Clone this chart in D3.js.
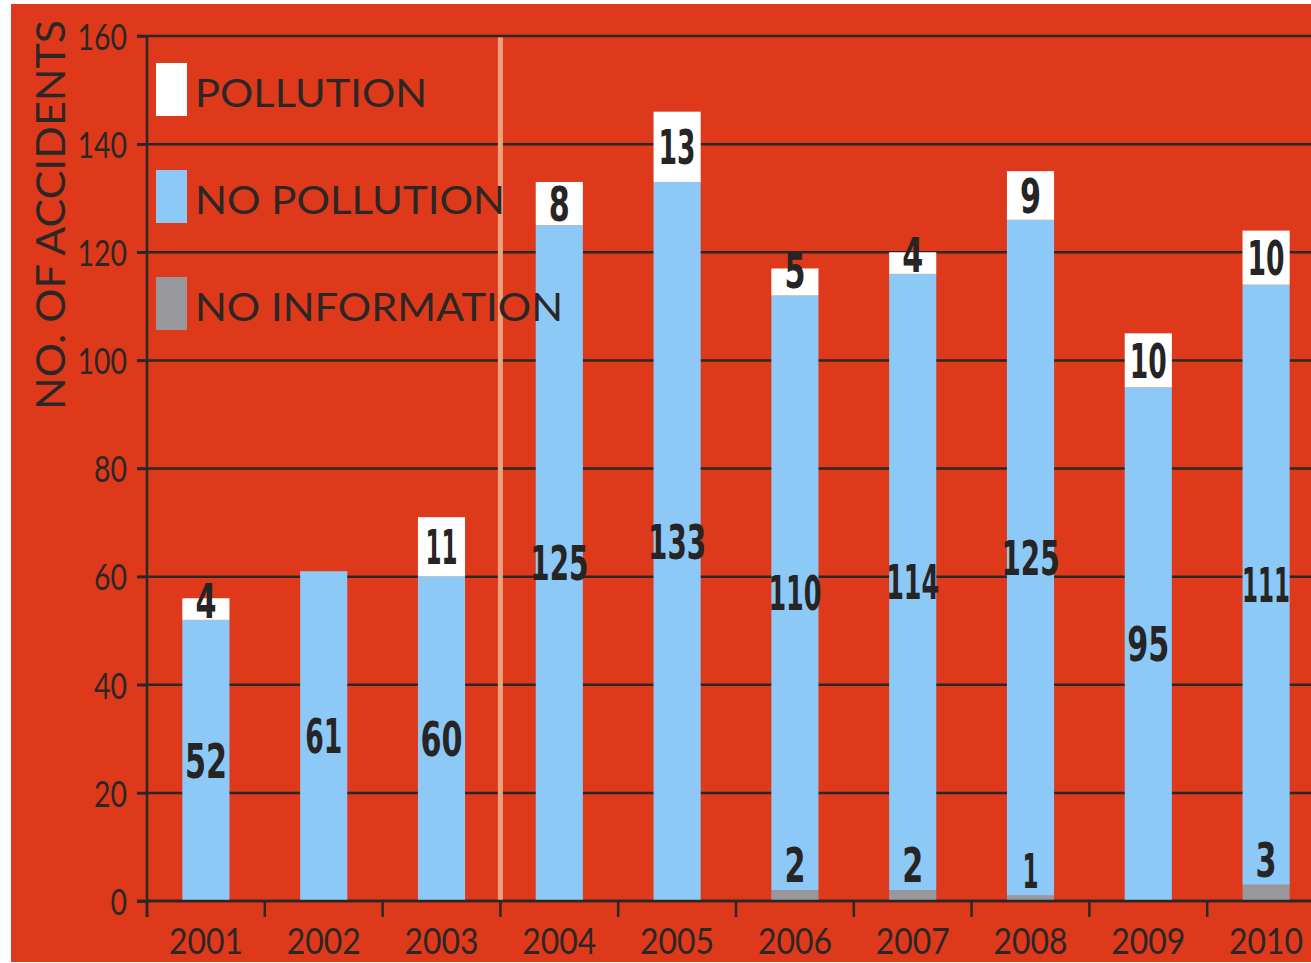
<!DOCTYPE html>
<html>
<head>
<meta charset="utf-8">
<script src="https://cdn.jsdelivr.net/npm/d3@7"></script>
<style>
  html, body { margin: 0; padding: 0; background: #ffffff; }
  svg { display: block; }
</style>
</head>
<body>
<div id="chart"></div>
<script>

// data
var years = ["2001", "2002", "2003", "2004", "2005", "2006", "2007", "2008", "2009", "2010"];
var noInformation = [0, 0, 0, 0, 0, 2, 2, 1, 0, 3];
var noPollution = [52, 61, 60, 125, 133, 110, 114, 125, 95, 111];
var pollution = [4, 0, 11, 8, 13, 5, 4, 9, 10, 10];
var yTicks = [0, 20, 40, 60, 80, 100, 120, 140, 160];

var legendItems = [
    {key: "pollution", label: "POLLUTION"},
    {key: "noPollution", label: "NO POLLUTION"},
    {key: "noInformation", label: "NO INFORMATION"}
];

function main() {

    var W = 1311, H = 963;
    var left = 147, top = 36, bottom = 901;

    var colors = {
        pollution: "#ffffff",
        noPollution: "#8cc9f6",
        noInformation: "#98979c"
    };
    var ink = "#2b2724";
    var thinFont = "Lato, 'Open Sans', sans-serif";
    var boldFont = "'DejaVu Sans Condensed', 'DejaVu Sans', sans-serif";

    var svg = d3.select("#chart")
        .append("svg")
        .attr("width", W)
        .attr("height", H);

    // red panel
    svg.append("rect")
        .attr("x", 11)
        .attr("y", 4)
        .attr("width", W - 11)
        .attr("height", 958)
        .attr("fill", "#df391c");

    // table for stacking
    var rows = years.map(function (d, i) {
        return {year: d, noInformation: noInformation[i], noPollution: noPollution[i], pollution: pollution[i]};
    });

    // scales
    var x = d3.scaleBand()
        .domain(years)
        .range([left, left + 117.8 * years.length])
        .paddingInner(0.6)
        .paddingOuter(0.3);

    var y = d3.scaleLinear()
        .domain([0, 160])
        .range([bottom, top]);

    var halfGap = (x.step() - x.bandwidth()) / 2;

    // horizontal grid lines
    svg.append("g")
        .selectAll("line")
        .data(yTicks)
        .join("line")
        .attr("x1", left - 10)
        .attr("x2", W)
        .attr("y1", function (d) { return y(d); })
        .attr("y2", function (d) { return y(d); })
        .attr("stroke", ink)
        .attr("stroke-width", 2.5);

    // stacked bars
    var stacked = d3.stack()
        .keys(["noInformation", "noPollution", "pollution"])(rows);

    var layers = svg.append("g")
        .selectAll("g")
        .data(stacked)
        .join("g")
        .attr("fill", function (d) { return colors[d.key]; });

    layers.selectAll("rect")
        .data(function (d) { return d; })
        .join("rect")
        .attr("x", function (d) { return x(d.data.year); })
        .attr("width", x.bandwidth())
        .attr("y", function (d) { return y(d[1]); })
        .attr("height", function (d) { return y(d[0]) - y(d[1]); });

    // divider between 2003 and 2004
    var divX = x(years[3]) - halfGap;
    svg.append("line")
        .attr("x1", divX)
        .attr("x2", divX)
        .attr("y1", y(160) + 1.5)
        .attr("y2", y(0))
        .attr("stroke", "#eca27d")
        .attr("stroke-width", 5);

    // Y axis
    var yAxis = svg.append("g")
        .attr("transform", "translate(" + left + ",0)")
        .call(d3.axisLeft(y).tickValues(yTicks).tickSize(10).tickPadding(10).tickSizeOuter(0));
    yAxis.select(".domain")
        .attr("d", "M0," + y(160) + "V" + (bottom + 16))
        .attr("stroke", ink)
        .attr("stroke-width", 2.5);
    yAxis.selectAll(".tick line").attr("stroke", ink).attr("stroke-width", 2.5);
    yAxis.selectAll(".tick text")
        .attr("fill", ink)
        .attr("font-family", thinFont)
        .attr("font-size", "37px")
        .attr("dy", "0.36em")
        .attr("textLength", function (d) { return String(d).length * 16.5; })
        .attr("lengthAdjust", "spacingAndGlyphs");

    // X axis: base line, boundary ticks and year labels
    svg.append("line")
        .attr("x1", left - 10)
        .attr("x2", W)
        .attr("y1", bottom)
        .attr("y2", bottom)
        .attr("stroke", ink)
        .attr("stroke-width", 2.5);

    svg.append("g")
        .selectAll("line")
        .data(years)
        .join("line")
        .attr("x1", function (d) { return x(d) - halfGap; })
        .attr("x2", function (d) { return x(d) - halfGap; })
        .attr("y1", bottom)
        .attr("y2", bottom + 16)
        .attr("stroke", ink)
        .attr("stroke-width", 2.5);

    svg.append("g")
        .selectAll("text")
        .data(years)
        .join("text")
        .attr("x", function (d) { return x(d) + x.bandwidth() / 2; })
        .attr("y", 954)
        .attr("text-anchor", "middle")
        .attr("fill", ink)
        .attr("font-family", thinFont)
        .attr("font-size", "37px")
        .attr("textLength", 74)
        .attr("lengthAdjust", "spacingAndGlyphs")
        .text(function (d) { return d; });

    // Y axis title
    svg.append("text")
        .attr("transform", "translate(65,410) rotate(-90)")
        .attr("fill", ink)
        .attr("font-family", thinFont)
        .attr("font-size", "41px")
        .attr("textLength", 390)
        .attr("lengthAdjust", "spacingAndGlyphs")
        .text("NO. OF ACCIDENTS");

    // legend
    var legendWidths = {pollution: 232, noPollution: 310, noInformation: 368};
    var legend = svg.append("g")
        .selectAll("g")
        .data(legendItems)
        .join("g")
        .attr("transform", function (d, i) { return "translate(156," + (63 + i * 107) + ")"; });

    legend.append("rect")
        .attr("width", 31)
        .attr("height", 53)
        .attr("fill", function (d) { return colors[d.key]; });

    legend.append("text")
        .attr("x", 39)
        .attr("y", 44)
        .attr("fill", ink)
        .attr("font-family", thinFont)
        .attr("font-size", "39px")
        .attr("textLength", function (d) { return legendWidths[d.key]; })
        .attr("lengthAdjust", "spacingAndGlyphs")
        .text(function (d) { return d.label; });

    // value labels
    var labels = [];
    stacked.forEach(function (layer) {
        layer.forEach(function (d) {
            var v = d[1] - d[0];
            if (v <= 0) return;
            var cy;
            if (layer.key === "noInformation") {
                cy = y(d[1]) - 25;
            } else if (layer.key === "noPollution") {
                cy = y((d[0] + d[1]) / 2);
            } else {
                cy = (y(d[0]) - y(d[1]) > 40) ? y((d[0] + d[1]) / 2) : y(d[1]) + 2;
            }
            labels.push({year: d.data.year, value: v, cy: cy});
        });
    });

    // condensed look: narrow "1", wider other digits
    function labelWidth(v) {
        return String(v).split("").reduce(function (s, c) { return s + (c === "1" ? 16 : 21); }, 0);
    }

    svg.append("g")
        .selectAll("text")
        .data(labels)
        .join("text")
        .attr("x", function (d) { return x(d.year) + x.bandwidth() / 2; })
        .attr("y", function (d) { return d.cy; })
        .attr("dy", "0.36em")
        .attr("text-anchor", "middle")
        .attr("fill", "#262424")
        .attr("font-family", boldFont)
        .attr("font-weight", "bold")
        .attr("font-size", "48px")
        .attr("textLength", function (d) { return labelWidth(d.value); })
        .attr("lengthAdjust", "spacingAndGlyphs")
        .text(function (d) { return d.value; });
}

main()
</script>
</body>
</html>
